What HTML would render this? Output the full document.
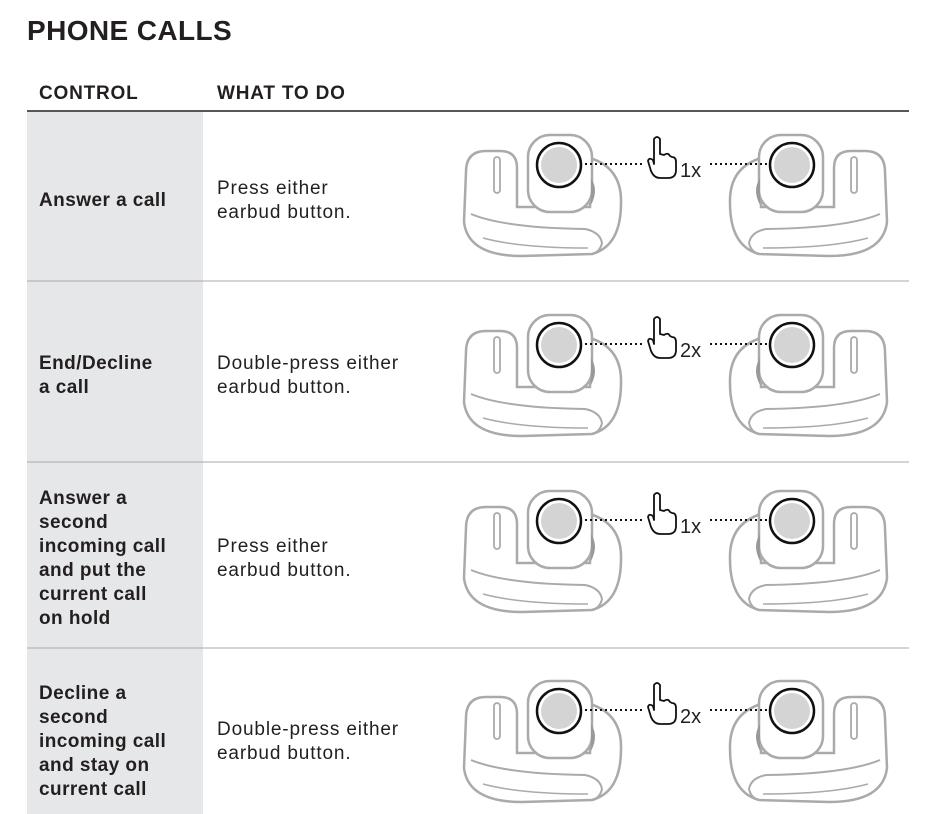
<!DOCTYPE html>
<html><head><meta charset="utf-8"><style>
body{margin:0;background:#fff;}
svg{display:block;font-family:"Liberation Sans",sans-serif;}
</style></head><body>
<svg width="931" height="814" viewBox="0 0 931 814" xmlns="http://www.w3.org/2000/svg">
<defs>
<g id="bud">
  <path d="M466,172 Q466,151 486,151 L500,151 Q517,151 517,168 L517,207 L590,207 L590,158 Q622,168 621,203 Q621,246 592,254 L522,256 Q468,256 464,222 Z" fill="#fff" stroke="#aaa" stroke-width="2.5"/>
  <rect x="494" y="157" width="6" height="36" rx="3" fill="#fff" stroke="#aaa" stroke-width="1.8"/>
  <path d="M471,214 Q505,228 585,229 Q600,232 602,243 Q600,252 592,254" fill="none" stroke="#aaa" stroke-width="2"/>
  <path d="M483,238 Q520,248 588,248" fill="none" stroke="#aaa" stroke-width="1.5"/>
  <rect x="528" y="135" width="64" height="77" rx="22" fill="#fff" stroke="#aaa" stroke-width="2.5"/>
  <path d="M591,178 Q599,190 591,205 Z" fill="#999"/>
  <circle cx="559" cy="165" r="22" fill="#fff" stroke="#111" stroke-width="2.5"/>
  <circle cx="559" cy="165" r="18" fill="#d4d4d4"/>
</g>
<g id="hand">
  <path d="M654,152 L654,139 Q657,135 660,139 L660,154 L664,155 Q668,152 670,156 L672,157 Q676,157 676,162 L676,170 Q676,178 668,178 L660,178 Q654,178 651,171 L648,161 Q649,157 653,160 L654,164 Z" fill="#fff" stroke="#111" stroke-width="1.8" stroke-linejoin="round"/>
</g>
<g id="pair">
  <use href="#bud"/>
  <use href="#bud" transform="translate(1351,0) scale(-1,1)"/>
  <line x1="585" y1="164" x2="642" y2="164" stroke="#111" stroke-width="2" stroke-dasharray="2,3"/>
  <line x1="710" y1="164" x2="768" y2="164" stroke="#111" stroke-width="2" stroke-dasharray="2,3"/>
  <use href="#hand"/>
</g>
</defs>
<text x="27" y="40" font-size="28" font-weight="bold" fill="#231f20" letter-spacing="0.4">PHONE CALLS</text>
<text x="39" y="99" font-size="19" font-weight="bold" fill="#231f20" letter-spacing="0.8">CONTROL</text>
<text x="217" y="99" font-size="19" font-weight="bold" fill="#231f20" letter-spacing="0.8">WHAT TO DO</text>
<rect x="27" y="112" width="176" height="702" fill="#e6e7e8"/>
<line x1="27" y1="111" x2="909" y2="111" stroke="#231f20" stroke-width="1.5"/>
<g stroke="#aaa" stroke-width="1"><line x1="27" y1="281" x2="909" y2="281"/><line x1="27" y1="462" x2="909" y2="462"/><line x1="27" y1="648" x2="909" y2="648"/></g>
<g font-size="19" fill="#231f20">
<g font-weight="bold" letter-spacing="0.45">
<text x="39" y="206">Answer a call</text>
<text x="39" y="369">End/Decline</text><text x="39" y="393">a call</text>
<text x="39" y="504">Answer a</text><text x="39" y="528">second</text><text x="39" y="552">incoming call</text><text x="39" y="576">and put the</text><text x="39" y="600">current call</text><text x="39" y="624">on hold</text>
<text x="39" y="699">Decline a</text><text x="39" y="723">second</text><text x="39" y="747">incoming call</text><text x="39" y="771">and stay on</text><text x="39" y="795">current call</text>
</g>
<g letter-spacing="0.85">
<text x="217" y="194">Press either</text><text x="217" y="218">earbud button.</text>
<text x="217" y="369">Double-press either</text><text x="217" y="393">earbud button.</text>
<text x="217" y="552">Press either</text><text x="217" y="576">earbud button.</text>
<text x="217" y="735">Double-press either</text><text x="217" y="759">earbud button.</text>
</g>
</g>
<use href="#pair"/>
<use href="#pair" transform="translate(0,180)"/>
<use href="#pair" transform="translate(0,356)"/>
<use href="#pair" transform="translate(0,546)"/>
<g font-size="20" fill="#231f20">
<text x="680" y="177">1x</text>
<text x="680" y="357">2x</text>
<text x="680" y="533">1x</text>
<text x="680" y="723">2x</text>
</g>
</svg>
</body></html>
